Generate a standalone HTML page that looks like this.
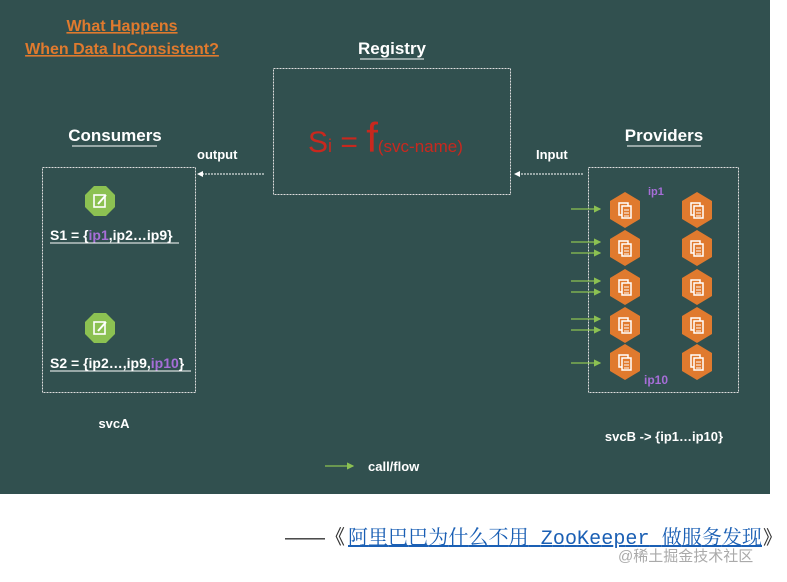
<!DOCTYPE html>
<html><head><meta charset="utf-8"><style>
body{margin:0;width:787px;height:582px;background:#fff;overflow:hidden;font-family:"Liberation Sans",sans-serif}
</style></head><body>
<svg width="787" height="582" xmlns="http://www.w3.org/2000/svg" style="position:absolute;left:0;top:0">
<defs>
<g id="hex"><polygon points="0,-18 15,-9 15,9 0,18 -15,9 -15,-9" fill="#e07a2e"/>
<rect x="-6" y="-7" width="9" height="12" fill="none" stroke="#fff" stroke-width="1.5"/>
<rect x="-3" y="-4" width="9" height="12" fill="#e07a2e" stroke="#fff" stroke-width="1.5"/>
<line x1="-1" y1="0" x2="4" y2="0" stroke="#fff"/><line x1="-1" y1="3" x2="4" y2="3" stroke="#fff"/><line x1="-1" y1="6" x2="4" y2="6" stroke="#fff"/></g>
<g id="cons"><polygon points="-6,-15 6,-15 15,-6 15,6 6,15 -6,15 -15,6 -15,-6" fill="#8cc152"/>
<rect x="-6" y="-6" width="11" height="12" fill="none" stroke="#fff" stroke-width="1.6"/><line x1="-2" y1="3" x2="6" y2="-6" stroke="#fff" stroke-width="2"/></g>
<marker id="ga" markerWidth="6" markerHeight="6" refX="5" refY="3" orient="auto"><path d="M0,0L6,3L0,6z" fill="#8cc152"/></marker>
<marker id="wa" markerWidth="6" markerHeight="6" refX="5" refY="3" orient="auto"><path d="M0,0L6,3L0,6z" fill="#fff"/></marker>
</defs>
<rect x="0" y="0" width="770" height="494" fill="#31504f"/>
<g font-weight="bold" font-family="'Liberation Sans Narrow','Liberation Sans',sans-serif">
<text x="122" y="31" fill="#e07a2e" font-size="16" text-anchor="middle" text-decoration="underline">What Happens</text>
<text x="122" y="54" fill="#e07a2e" font-size="16" text-anchor="middle" text-decoration="underline">When Data InConsistent?</text>
<text x="392" y="54" fill="#fff" font-size="17" text-anchor="middle">Registry</text>
<line x1="360" y1="59" x2="424" y2="59" stroke="#fff"/>
<text x="115" y="141" fill="#fff" font-size="17" text-anchor="middle">Consumers</text>
<line x1="72" y1="146" x2="157" y2="146" stroke="#fff"/>
<text x="664" y="141" fill="#fff" font-size="17" text-anchor="middle">Providers</text>
<line x1="627" y1="146" x2="701" y2="146" stroke="#fff"/>
<text x="197" y="159" fill="#fff" font-size="13">output</text>
<text x="536" y="159" fill="#fff" font-size="13">Input</text>
<text x="50" y="240" fill="#fff" font-size="14">S1 = {<tspan fill="#a66ed8">ip1</tspan>,ip2…ip9}</text>
<line x1="50" y1="243" x2="179" y2="243" stroke="#fff"/>
<text x="50" y="368" fill="#fff" font-size="14">S2 = {ip2…,ip9,<tspan fill="#a66ed8">ip10</tspan>}</text>
<line x1="50" y1="371" x2="191" y2="371" stroke="#fff"/>
<text x="114" y="428" fill="#fff" font-size="13" text-anchor="middle">svcA</text>
<text x="664" y="441" fill="#fff" font-size="13" text-anchor="middle">svcB -&gt; {ip1…ip10}</text>
<text x="368" y="471" fill="#fff" font-size="13">call/flow</text>
<text x="648" y="195" fill="#a66ed8" font-size="11">ip1</text>
<text x="644" y="384" fill="#a66ed8" font-size="12">ip10</text>
</g>
<text x="308" y="152" fill="#c8281e" font-size="30" font-family="'Liberation Sans',sans-serif">S<tspan font-size="18">i</tspan> = <tspan font-size="42">f</tspan><tspan font-size="17">(svc-name)</tspan></text>
<g fill="none" stroke="#ddd" stroke-width="1" stroke-dasharray="2,1">
<rect x="273.5" y="68.5" width="237" height="126"/>
<rect x="42.5" y="167.5" width="153" height="225"/>
<rect x="588.5" y="167.5" width="150" height="225"/>
</g>
<line x1="264" y1="174" x2="198" y2="174" stroke="#fff" stroke-dasharray="2,1" marker-end="url(#wa)"/>
<line x1="583" y1="174" x2="515" y2="174" stroke="#fff" stroke-dasharray="2,1" marker-end="url(#wa)"/>
<use href="#cons" x="100" y="201"/>
<use href="#cons" x="100" y="328"/>
<g>
<use href="#hex" x="625" y="210"/><use href="#hex" x="697" y="210"/>
<use href="#hex" x="625" y="248"/><use href="#hex" x="697" y="248"/>
<use href="#hex" x="625" y="287"/><use href="#hex" x="697" y="287"/>
<use href="#hex" x="625" y="325"/><use href="#hex" x="697" y="325"/>
<use href="#hex" x="625" y="362"/><use href="#hex" x="697" y="362"/>
</g>
<g stroke="#8cc152" stroke-width="1.2" marker-end="url(#ga)">
<line x1="571" y1="209" x2="600" y2="209"/>
<line x1="571" y1="242" x2="600" y2="242"/><line x1="571" y1="253" x2="600" y2="253"/>
<line x1="571" y1="281" x2="600" y2="281"/><line x1="571" y1="292" x2="600" y2="292"/>
<line x1="571" y1="319" x2="600" y2="319"/><line x1="571" y1="330" x2="600" y2="330"/>
<line x1="571" y1="363" x2="600" y2="363"/>
<line x1="325" y1="466" x2="353" y2="466"/>
</g>
<text x="285" y="544" font-size="20" fill="#333" font-family="'Liberation Sans','Noto Sans CJK SC',sans-serif">——《</text>
<text x="348" y="544" font-size="20" fill="#1a5fb4" text-decoration="underline" font-family="'Liberation Mono','Noto Serif CJK SC',serif" textLength="414">阿里巴巴为什么不用 ZooKeeper 做服务发现</text>
<text x="763" y="544" font-size="19" fill="#333" font-family="'Noto Sans CJK SC',sans-serif">》</text>
<text x="618" y="561" font-size="15" fill="#aaa" font-family="'Liberation Sans','Noto Sans CJK SC',sans-serif">@稀土掘金技术社区</text>
</svg>
</body></html>
